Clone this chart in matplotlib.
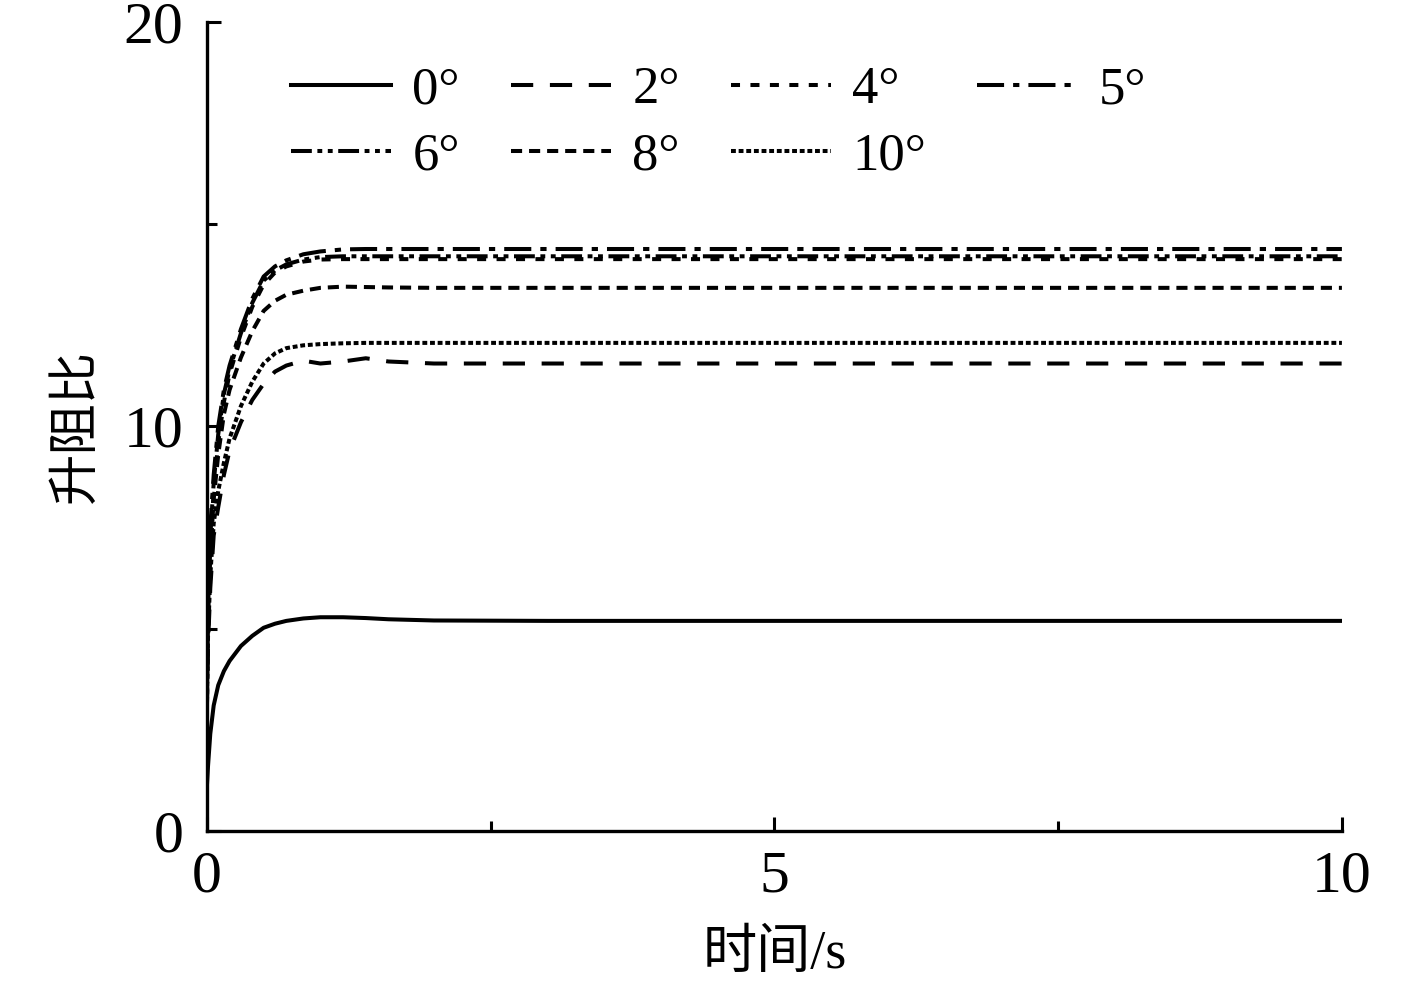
import matplotlib
matplotlib.use("Agg")
import matplotlib.pyplot as plt
from matplotlib.ticker import MultipleLocator

plt.rcParams['lines.scale_dashes'] = False
plt.rcParams['font.family'] = ['Liberation Serif', 'Noto Sans CJK SC']

# time axis (s)
t = [0, 0.01, 0.03, 0.06, 0.1, 0.15, 0.2, 0.3, 0.4, 0.5, 0.6, 0.7, 0.85,
     1.0, 1.2, 1.4, 1.6, 2.0, 3.0, 5.0, 10.0]

ld_0 = [1.1, 1.6, 2.4, 3.1, 3.6, 3.95, 4.2, 4.57, 4.82, 5.02, 5.12, 5.19, 5.25,
        5.28, 5.28, 5.26, 5.23, 5.2, 5.19, 5.19, 5.19]
ld_2 = [3.0, 4.6, 6.0, 7.3, 8.0, 8.8, 9.4, 10.1, 10.65, 11.05, 11.35, 11.5, 11.62,
        11.55, 11.6, 11.68, 11.6, 11.55, 11.55, 11.55, 11.55]
ld_4 = [3.3, 5.5, 7.0, 8.4, 9.6, 10.6, 11.3, 12.2, 12.95, 13.5, 13.8, 13.95, 14.07,
        14.12, 14.13, 14.13, 14.13, 14.13, 14.13, 14.13, 14.13]
ld_5 = [3.5, 6.0, 7.5, 8.8, 10.0, 10.9, 11.5, 12.4, 13.15, 13.7, 13.95, 14.1, 14.25,
        14.32, 14.37, 14.38, 14.38, 14.38, 14.38, 14.38, 14.38]
ld_6 = [3.8, 5.8, 7.3, 8.6, 9.8, 10.8, 11.4, 12.3, 13.05, 13.6, 13.85, 14.0, 14.12,
        14.18, 14.2, 14.2, 14.2, 14.2, 14.2, 14.2, 14.2]
ld_8 = [3.2, 5.2, 6.8, 8.2, 9.3, 10.3, 10.9, 11.7, 12.35, 12.85, 13.1, 13.25, 13.35,
        13.42, 13.45, 13.44, 13.43, 13.42, 13.42, 13.42, 13.42]
ld_10 = [3.0, 4.8, 6.3, 7.6, 8.4, 9.1, 9.7, 10.5, 11.1, 11.55, 11.8, 11.93, 12.0,
         12.03, 12.05, 12.06, 12.06, 12.06, 12.06, 12.06, 12.06]

labels = ['0°', '2°', '4°', '5°', '6°', '8°', '10°']
series = [ld_0, ld_2, ld_4, ld_5, ld_6, ld_8, ld_10]
styles = [
    '-',
    (0, (16, 12)),
    (0, (6.5, 7.5)),
    (0, (19.5, 6.5, 4.5, 6.5)),
    (0, (15, 4, 3.5, 4, 3.5, 4)),
    (0, (8, 5)),
    (0, (3.5, 2)),
]

fig = plt.figure(figsize=(14.17, 9.81), dpi=100)
ax = fig.add_axes([0.146, 0.153, 0.801, 0.825])

handles = {}
for lab, y, ls in zip(labels, series, styles):
    h, = ax.plot(t, y, color='black', lw=2.9, linestyle=ls, label=lab)
    handles[lab] = h

ax.set_xlim(0, 10)
ax.set_ylim(0, 20)
ax.xaxis.set_major_locator(MultipleLocator(5))
ax.xaxis.set_minor_locator(MultipleLocator(2.5))
ax.yaxis.set_major_locator(MultipleLocator(10))
ax.yaxis.set_minor_locator(MultipleLocator(5))
ax.tick_params(which='both', direction='in', width=2.2, labelsize=43)
ax.tick_params(which='major', length=10)
ax.tick_params(which='minor', length=7)
ax.tick_params(axis='x', pad=14)
ax.tick_params(axis='y', pad=17)
for s in ['top', 'right']:
    ax.spines[s].set_visible(False)
for s in ['left', 'bottom']:
    ax.spines[s].set_linewidth(2.4)

ax.set_xlabel('时间/s', fontsize=39, labelpad=18)
ax.set_ylabel('升阻比', fontsize=37, labelpad=16)

order = ['0°', '6°', '2°', '8°', '4°', '10°', '5°']
ax.legend([handles[k] for k in order], order, ncol=4, frameon=False,
          loc='upper left', bbox_to_anchor=(0.074, 0.945), fontsize=38,
          handlelength=1.9, handletextpad=0.4, columnspacing=0.97,
          labelspacing=0.35, borderpad=0, borderaxespad=0)

fig.savefig('out.png', dpi=100)
